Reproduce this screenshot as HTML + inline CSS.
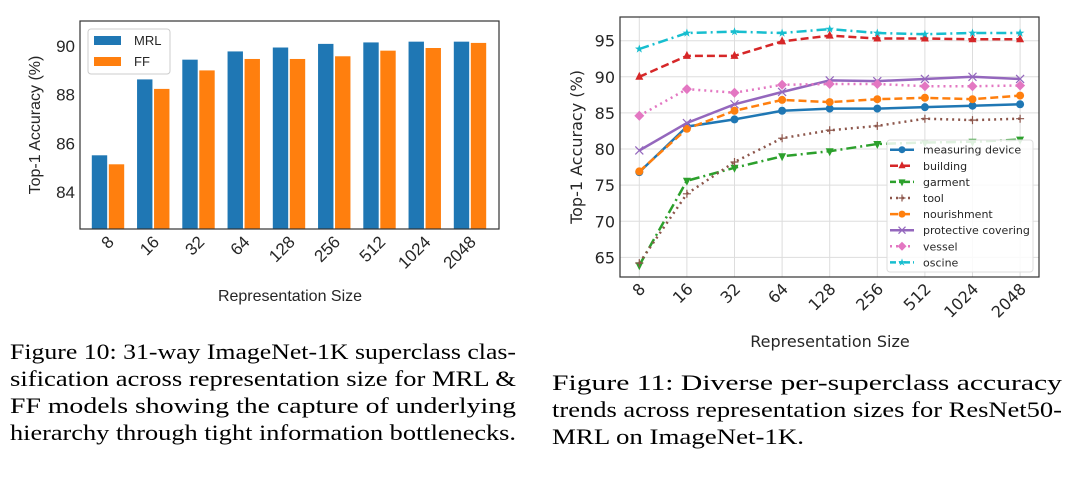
<!DOCTYPE html>
<html><head><meta charset="utf-8"><style>
body{margin:0;background:#fff;}
svg{display:block;}
.cap{font-family:"Liberation Serif","Times New Roman",serif;font-size:22px;fill:#000;}
.lt{font-family:"Liberation Sans",sans-serif;fill:#262626;}
.rt{font-family:"DejaVu Sans",sans-serif;fill:#262626;}
</style></head><body>
<svg id="svg" width="1074" height="494" viewBox="0 0 1074 494">
<g id="left"></g>
<g id="right"></g>
<g>
<text class="cap" x="10" y="359" textLength="506" lengthAdjust="spacingAndGlyphs">Figure 10: 31-way ImageNet-1K superclass clas-</text>
<text class="cap" x="10" y="386" textLength="506" lengthAdjust="spacingAndGlyphs">sification across representation size for MRL &amp;</text>
<text class="cap" x="10" y="413" textLength="506" lengthAdjust="spacingAndGlyphs">FF models showing the capture of underlying</text>
<text class="cap" x="10" y="440" textLength="506" lengthAdjust="spacingAndGlyphs">hierarchy through tight information bottlenecks.</text>
</g>
<g>
<text class="cap" x="552" y="390" textLength="510" lengthAdjust="spacingAndGlyphs">Figure 11:  Diverse per-superclass accuracy</text>
<text class="cap" x="552" y="417" textLength="510" lengthAdjust="spacingAndGlyphs">trends across representation sizes for ResNet50-</text>
<text class="cap" x="552" y="444" textLength="252" lengthAdjust="spacingAndGlyphs">MRL on ImageNet-1K.</text>
</g>
</svg>
<script>
const categories=["8","16","32","64","128","256","512","1024","2048"];
const mrlValues=[85.52,88.64,89.45,89.79,89.95,90.1,90.16,90.19,90.19];
const ffValues=[85.15,88.25,89.01,89.48,89.48,89.59,89.82,89.93,90.14];
const leftTicks=[84,86,88,90];
const rightTicks=[65,70,75,80,85,90,95];
const measuringDevice=[76.8,83.1,84.1,85.3,85.6,85.6,85.8,86.0,86.2];
const building=[90.0,92.9,92.9,94.9,95.7,95.3,95.3,95.2,95.2];
const garment=[63.9,75.6,77.4,79.0,79.7,80.7,80.9,81.0,81.3];
const tool=[64.2,73.8,78.2,81.5,82.6,83.2,84.2,84.0,84.2];
const nourishment=[76.9,82.8,85.3,86.8,86.5,86.9,87.1,86.9,87.4];
const protectiveCovering=[79.8,83.6,86.2,87.9,89.5,89.4,89.7,90.0,89.7];
const vessel=[84.6,88.3,87.8,88.9,89.0,89.0,88.7,88.7,88.8];
const oscine=[93.85,96.06,96.25,96.06,96.6,96.06,95.9,96.06,96.06];

const NS="http://www.w3.org/2000/svg";
function mk(p,tag,at,txt){const e=document.createElementNS(NS,tag);for(const k in at)e.setAttribute(k,at[k]);if(txt!=null)e.textContent=txt;p.appendChild(e);return e;}

// LEFT
const L=document.getElementById('left');
const lx0=80,lx1=499,ly0=21,ly1=229;
const ly=v=>46+(90-v)*24.33;
const lx=i=>108+i*45.25;
mk(L,'rect',{x:lx0,y:ly0,width:lx1-lx0,height:ly1-ly0,fill:'#fff'});
categories.forEach((c,i)=>{
 let b=mk(L,'rect',{x:lx(i)-16.5,y:ly(mrlValues[i]),width:16,height:ly1-ly(mrlValues[i]),fill:'#1f77b4',stroke:'#fff','stroke-width':0.6});
 
 
 let f=mk(L,'rect',{x:lx(i)+0.5,y:ly(ffValues[i]),width:16,height:ly1-ly(ffValues[i]),fill:'#ff7f0e',stroke:'#fff','stroke-width':0.6});
 
 
 let t=mk(L,'text',{class:'lt','font-size':17,'text-anchor':'end',transform:`translate(${lx(i)+7},${ly1+14}) rotate(-45)`},c);
 
 
});
leftTicks.forEach(v=>{
 let t=mk(L,'text',{class:'lt','font-size':17,'text-anchor':'end',x:lx0-5,y:ly(v)+6},v);
 
 
});
mk(L,'rect',{x:lx0,y:ly0,width:lx1-lx0,height:ly1-ly0,fill:'none',stroke:'#333','stroke-width':1.2});
let lyt=mk(L,'text',{class:'lt','font-size':16,'text-anchor':'middle',transform:'translate(40,125) rotate(-90)'},'Top-1 Accuracy (%)');

let lxt=mk(L,'text',{class:'lt','font-size':16,'text-anchor':'middle',x:290,y:301},'Representation Size');

const lg=mk(L,'g',{});

mk(lg,'rect',{x:88,y:29,width:82,height:45,fill:'#fff',stroke:'#ccc',rx:3,'fill-opacity':0.9});
mk(lg,'rect',{x:94,y:36,width:27,height:9,fill:'#1f77b4'});
mk(lg,'text',{class:'lt','font-size':13,x:134,y:45},'MRL');
mk(lg,'rect',{x:94,y:57,width:27,height:9,fill:'#ff7f0e'});
mk(lg,'text',{class:'lt','font-size':13,x:134,y:66},'FF');

// RIGHT
const R=document.getElementById('right');
const rx0=620,rx1=1039,ry0=17,ry1=277;
const ry=v=>40.7+(95-v)*7.222;
const rx=i=>639.3+i*47.6;
categories.forEach((c,i)=>{
 mk(R,'line',{x1:rx(i),x2:rx(i),y1:ry0,y2:ry1,stroke:'#ddd','stroke-width':1});
 let t=mk(R,'text',{class:'rt','font-size':16,'text-anchor':'end',transform:`translate(${rx(i)+7},${ry1+13}) rotate(-45)`},c);
 
 
});
rightTicks.forEach(v=>{
 mk(R,'line',{x1:rx0,x2:rx1,y1:ry(v),y2:ry(v),stroke:'#ddd','stroke-width':1});
 let t=mk(R,'text',{class:'rt','font-size':16,'text-anchor':'end',x:rx0-5,y:ry(v)+6},v);
 
 
});
function marker(g,m,x,y,col,s){
 s=s||4;
 if(m==='o')mk(g,'circle',{cx:x,cy:y,r:s,fill:col});
 else if(m==='^')mk(g,'polygon',{points:`${x},${y-s-1} ${x-s},${y+s-1} ${x+s},${y+s-1}`,fill:col});
 else if(m==='v')mk(g,'polygon',{points:`${x},${y+s+1} ${x-s},${y-s+1} ${x+s},${y-s+1}`,fill:col});
 else if(m==='+'){mk(g,'path',{d:`M${x-s} ${y}H${x+s}M${x} ${y-s}V${y+s}`,stroke:col,'stroke-width':1.2});}
 else if(m==='x'){mk(g,'path',{d:`M${x-s} ${y-s}L${x+s} ${y+s}M${x-s} ${y+s}L${x+s} ${y-s}`,stroke:col,'stroke-width':1.2});}
 else if(m==='D')mk(g,'polygon',{points:`${x},${y-s-1} ${x+s+1},${y} ${x},${y+s+1} ${x-s-1},${y}`,fill:col});
 else if(m==='*'){let p=[];for(let k=0;k<10;k++){const a=-Math.PI/2+k*Math.PI/5,r=k%2?s*0.45:s+0.5;p.push((x+r*Math.cos(a)).toFixed(1)+','+(y+r*Math.sin(a)).toFixed(1));}mk(g,'polygon',{points:p.join(' '),fill:col});}
}
const series=[
 ['measuring device',measuringDevice,'#1f77b4','','o'],
 ['building',building,'#d62728','8,4','^'],
 ['garment',garment,'#2ca02c','10,4,2,4','v'],
 ['tool',tool,'#8c564b','2,4','+'],
 ['nourishment',nourishment,'#ff7f0e','8,4','o'],
 ['protective covering',protectiveCovering,'#9467bd','','x'],
 ['vessel',vessel,'#e377c2','2,4','D'],
 ['oscine',oscine,'#17becf','10,4,2,4','*']
];
series.forEach(([name,vals,col,dash,m])=>{
 const g=mk(R,'g',{});
 
 
 const pts=vals.map((v,i)=>rx(i).toFixed(1)+','+ry(v).toFixed(1)).join(' ');
 const a={points:pts,fill:'none',stroke:col,'stroke-width':2.5};
 if(dash)a['stroke-dasharray']=dash;
 mk(g,'polyline',a);
 vals.forEach((v,i)=>marker(g,m,rx(i),ry(v),col));
});
mk(R,'rect',{x:rx0,y:ry0,width:rx1-rx0,height:ry1-ry0,fill:'none',stroke:'#333','stroke-width':1.2});
let ryt=mk(R,'text',{class:'rt','font-size':16,transform:'translate(582,147) rotate(-90)','text-anchor':'middle'},'Top-1 Accuracy (%)');

let rxt=mk(R,'text',{class:'rt','font-size':16,'text-anchor':'middle',x:830,y:347},'Representation Size');

const rg=mk(R,'g',{});

mk(rg,'rect',{x:887,y:140,width:146,height:132,fill:'#fff','fill-opacity':0.85,stroke:'#ddd',rx:3});
series.forEach(([name,vals,col,dash,m],k)=>{
 const y=149.7+k*16.1;
 const e=mk(rg,'g',{});
 
 
 const a={x1:890,x2:914,y1:y,y2:y,stroke:col,'stroke-width':2.5};
 if(dash)a['stroke-dasharray']=dash==='10,4,2,4'?'6,3,2,3':dash;
 mk(e,'line',a);
 marker(e,m,902,y,col,3.5);
 mk(e,'text',{class:'rt','font-size':11,x:923,y:y+4},name);
});
</script>
</body></html>
